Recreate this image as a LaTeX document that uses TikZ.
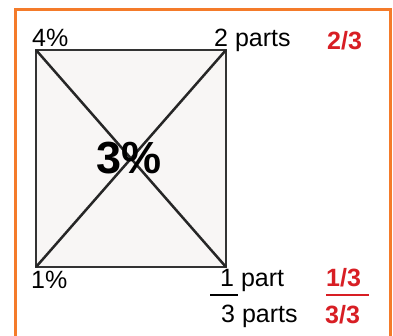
\documentclass[tikz,border=0pt]{standalone}
\usepackage{fontspec}
\setmainfont{Liberation Sans}
\usepackage{tikz}
\usetikzlibrary{positioning}
\definecolor{frameorange}{HTML}{F47B2A}
\definecolor{fracred}{HTML}{D81E24}
\definecolor{boxfill}{HTML}{F8F6F5}

\begin{document}
\begin{tikzpicture}[x=1pt, y=-1pt,
  lbl/.style={anchor=base west, inner sep=0pt, font=\fontsize{25}{30}\selectfont},
  frac/.style={lbl, text=fracred, font=\fontsize{25}{30}\selectfont\bfseries},
  big/.style={inner sep=0pt, font=\fontsize{45}{50}\selectfont\bfseries},
  diag/.style={line width=2.5pt, draw=black!85},
  bar/.style={line width=2.5pt}
]
\clip (0,0) rectangle (393,336);
\fill[white] (0,0) rectangle (393,336);
\draw[frameorange, line width=3pt] (15,10) rectangle (390,360);
% square
\coordinate (tl) at (36,50);
\coordinate (tr) at (226,50);
\coordinate (bl) at (36,267);
\coordinate (br) at (226,267);
\filldraw[fill=boxfill, draw=black!80, line width=1.6pt] (tl) rectangle (br);
\draw[diag] (tl) -- (br);
\draw[diag] (tr) -- (bl);
\node[big] (mid) at (129,158) {3\%};
% labels
\node[lbl] (top4) at (32,47) {4\%};
\node[lbl] (two) at (214,47) {2 parts};
\node[frac] (twothird) at (327,50) {2/3};
\node[lbl] (bot1) at (31,288) {1\%};
\node[lbl] (one) at (220,287) {1 part};
\node[frac] (onethird) at (326,287) {1/3};
\node[lbl] (three) at (221,322) {3 parts};
\node[frac] (threethird) at (325,323) {3/3};
\draw[bar] (210,295) -- (238,295);
\draw[bar, fracred] (326,295) -- (369,295);
\end{tikzpicture}
\end{document}
